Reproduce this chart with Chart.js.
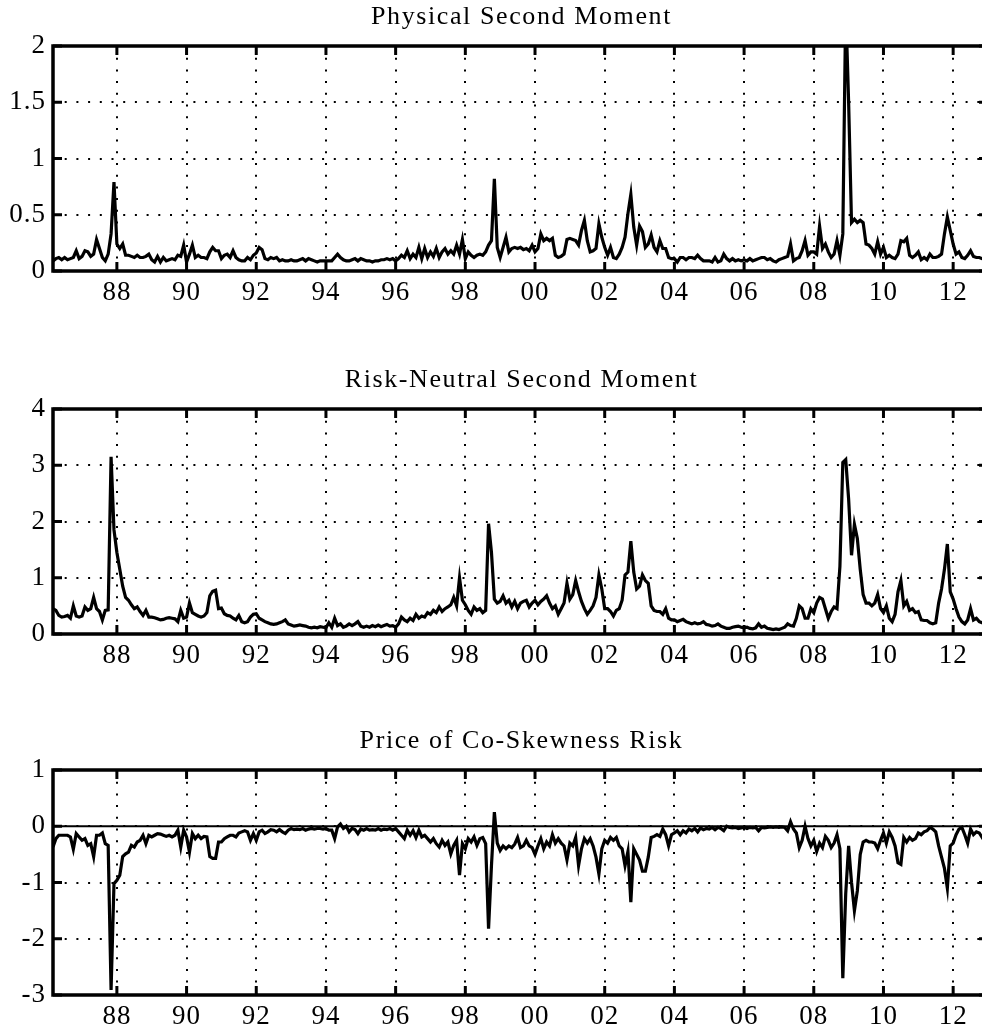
<!DOCTYPE html>
<html>
<head>
<meta charset="utf-8">
<script src="https://cdn.jsdelivr.net/npm/chart.js@4.4.0/dist/chart.umd.min.js"></script>
<style>
  html, body { margin: 0; padding: 0; background: #fff; overflow: hidden; }
  body { width: 982px; height: 1034px; position: relative; }
  canvas { position: absolute; left: 0; }
</style>
</head>
<body>
<canvas id="physical" width="992" height="309" style="top:0px"></canvas>
<canvas id="riskNeutral" width="992" height="309" style="top:363px"></canvas>
<canvas id="coskew" width="992" height="309" style="top:724px"></canvas>
<script>
// monthly observations, Mar 1986 .. Jan 2013
const startYear = 1986, startMonth = 3;

const physical = [
  0.09,0.11,0.12,0.10,0.12,0.10,0.11,0.12,0.18,0.11,                 // 1986
  0.13,0.18,0.17,0.13,0.15,0.28,0.20,0.12,0.09,0.15,0.33,0.79,       // 1987
  0.24,0.20,0.24,0.14,0.14,0.13,0.12,0.14,0.12,0.12,0.13,0.15,       // 1988
  0.10,0.08,0.13,0.08,0.12,0.09,0.10,0.11,0.10,0.14,0.13,0.23,       // 1989
  0.08,0.15,0.23,0.12,0.14,0.12,0.12,0.11,0.17,0.21,0.18,0.18,       // 1990
  0.11,0.14,0.15,0.12,0.18,0.12,0.10,0.09,0.09,0.12,0.10,0.14,       // 1991
  0.16,0.21,0.19,0.11,0.10,0.12,0.11,0.12,0.09,0.10,0.09,0.09,       // 1992
  0.10,0.09,0.09,0.10,0.11,0.09,0.11,0.10,0.09,0.08,0.09,0.09,       // 1993
  0.09,0.09,0.09,0.12,0.15,0.12,0.10,0.09,0.09,0.10,0.11,0.09,       // 1994
  0.11,0.10,0.09,0.09,0.08,0.09,0.09,0.10,0.10,0.11,0.10,0.11,       // 1995
  0.09,0.11,0.14,0.12,0.18,0.11,0.15,0.12,0.21,0.11,0.20,0.12,       // 1996
  0.17,0.13,0.20,0.12,0.17,0.20,0.15,0.18,0.15,0.23,0.15,0.28,       // 1997
  0.11,0.17,0.14,0.12,0.14,0.15,0.14,0.17,0.23,0.27,0.82,0.21,       // 1998
  0.12,0.21,0.30,0.17,0.20,0.21,0.20,0.21,0.19,0.20,0.18,0.23,       // 1999
  0.17,0.20,0.33,0.27,0.29,0.27,0.29,0.14,0.12,0.13,0.15,0.28,       // 2000
  0.29,0.28,0.27,0.23,0.36,0.45,0.27,0.17,0.18,0.20,0.42,0.30,       // 2001
  0.21,0.14,0.21,0.12,0.11,0.15,0.21,0.30,0.51,0.68,0.39,0.23,       // 2002
  0.40,0.35,0.21,0.24,0.32,0.21,0.17,0.27,0.20,0.20,0.12,0.11,       // 2003
  0.11,0.08,0.12,0.12,0.10,0.12,0.12,0.11,0.14,0.11,0.09,0.09,       // 2004
  0.09,0.08,0.12,0.08,0.09,0.15,0.11,0.09,0.11,0.09,0.10,0.09,       // 2005
  0.10,0.09,0.11,0.09,0.10,0.11,0.12,0.12,0.10,0.11,0.09,0.08,       // 2006
  0.10,0.11,0.12,0.13,0.24,0.09,0.11,0.12,0.18,0.27,0.14,0.17,       // 2007
  0.17,0.15,0.40,0.20,0.24,0.17,0.12,0.15,0.27,0.14,0.33,2.35,       // 2008
  1.50,0.43,0.46,0.43,0.45,0.43,0.24,0.23,0.20,0.15,0.26,0.15,       // 2009
  0.21,0.12,0.14,0.12,0.11,0.15,0.27,0.26,0.29,0.14,0.12,0.14,       // 2010
  0.17,0.10,0.12,0.10,0.15,0.12,0.12,0.13,0.15,0.33,0.48,0.36,       // 2011
  0.24,0.15,0.17,0.12,0.11,0.14,0.18,0.13,0.12,0.12,0.11,0.11,       // 2012
  0.12                                                               // 2013
];

const riskNeutral = [
  0.45,0.42,0.33,0.30,0.31,0.33,0.28,0.50,0.32,0.30,
  0.32,0.48,0.42,0.45,0.65,0.45,0.40,0.25,0.42,0.43,3.15,1.85,
  1.45,1.15,0.85,0.65,0.60,0.52,0.45,0.48,0.40,0.33,0.42,0.30,
  0.30,0.29,0.27,0.25,0.26,0.28,0.29,0.28,0.27,0.22,0.42,0.28,
  0.30,0.55,0.38,0.35,0.32,0.30,0.32,0.38,0.68,0.76,0.78,0.45,
  0.46,0.36,0.33,0.32,0.28,0.25,0.33,0.22,0.20,0.22,0.30,0.35,
  0.36,0.28,0.25,0.22,0.20,0.18,0.17,0.18,0.20,0.22,0.25,0.18,
  0.16,0.14,0.15,0.16,0.15,0.14,0.12,0.11,0.12,0.11,0.13,0.12,
  0.11,0.20,0.12,0.28,0.15,0.18,0.12,0.14,0.18,0.15,0.18,0.22,
  0.14,0.12,0.14,0.12,0.15,0.13,0.16,0.13,0.15,0.17,0.14,0.15,
  0.12,0.18,0.30,0.25,0.22,0.28,0.24,0.35,0.28,0.32,0.30,0.38,
  0.35,0.42,0.38,0.48,0.40,0.45,0.48,0.52,0.65,0.50,1.00,0.60,
  0.52,0.42,0.35,0.48,0.42,0.45,0.38,0.42,1.96,1.45,0.62,0.55,
  0.58,0.68,0.55,0.60,0.48,0.58,0.45,0.55,0.58,0.60,0.48,0.55,
  0.60,0.52,0.58,0.62,0.68,0.55,0.45,0.50,0.35,0.45,0.55,0.90,
  0.62,0.70,0.95,0.75,0.58,0.45,0.35,0.42,0.50,0.65,1.05,0.80,
  0.45,0.45,0.40,0.32,0.42,0.45,0.60,1.05,1.10,1.65,1.10,0.80,
  0.85,1.05,0.95,0.90,0.50,0.42,0.40,0.40,0.35,0.45,0.28,0.25,
  0.25,0.22,0.24,0.26,0.22,0.20,0.18,0.20,0.18,0.19,0.22,0.17,
  0.16,0.14,0.15,0.18,0.14,0.12,0.10,0.10,0.12,0.13,0.14,0.12,
  0.11,0.12,0.10,0.09,0.11,0.18,0.12,0.14,0.10,0.09,0.08,0.09,
  0.08,0.10,0.12,0.18,0.15,0.14,0.28,0.50,0.45,0.28,0.28,0.45,
  0.38,0.55,0.65,0.62,0.45,0.28,0.40,0.48,0.45,1.20,3.05,3.10,
  2.40,1.40,1.95,1.70,1.15,0.70,0.55,0.55,0.50,0.55,0.70,0.45,
  0.38,0.50,0.28,0.22,0.35,0.75,0.95,0.50,0.58,0.42,0.45,0.38,
  0.40,0.25,0.24,0.24,0.20,0.18,0.20,0.55,0.80,1.15,1.60,0.75,
  0.62,0.45,0.30,0.22,0.18,0.25,0.45,0.25,0.28,0.22,0.20,0.22,
  0.22
];

const coskewPrice = [
  -0.37,-0.22,-0.16,-0.16,-0.16,-0.16,-0.19,-0.41,-0.13,-0.19,
  -0.25,-0.22,-0.34,-0.31,-0.54,-0.16,-0.16,-0.12,-0.31,-0.34,-2.91,-1.02,
  -0.96,-0.87,-0.54,-0.49,-0.46,-0.34,-0.37,-0.28,-0.25,-0.16,-0.31,-0.16,
  -0.19,-0.16,-0.13,-0.14,-0.16,-0.18,-0.16,-0.19,-0.16,-0.07,-0.37,-0.07,
  -0.19,-0.46,-0.13,-0.22,-0.16,-0.22,-0.18,-0.19,-0.54,-0.57,-0.57,-0.28,
  -0.28,-0.22,-0.19,-0.16,-0.16,-0.19,-0.12,-0.10,-0.08,-0.10,-0.25,-0.13,
  -0.25,-0.10,-0.07,-0.13,-0.10,-0.06,-0.07,-0.10,-0.06,-0.10,-0.13,-0.07,
  -0.04,-0.06,-0.05,-0.06,-0.04,-0.07,-0.05,-0.04,-0.05,-0.04,-0.04,-0.05,
  -0.04,-0.07,-0.07,-0.22,-0.01,0.04,-0.04,0.00,-0.10,-0.04,-0.06,-0.13,
  -0.05,-0.07,-0.04,-0.07,-0.06,-0.07,-0.04,-0.07,-0.05,-0.06,-0.04,-0.07,
  -0.04,-0.10,-0.16,-0.22,-0.07,-0.16,-0.08,-0.20,-0.07,-0.19,-0.16,-0.22,
  -0.28,-0.22,-0.31,-0.37,-0.25,-0.34,-0.28,-0.49,-0.34,-0.25,-0.87,-0.31,
  -0.40,-0.22,-0.28,-0.19,-0.34,-0.22,-0.20,-0.31,-1.82,-0.70,0.25,-0.30,
  -0.43,-0.35,-0.40,-0.35,-0.38,-0.32,-0.20,-0.38,-0.35,-0.25,-0.35,-0.38,
  -0.50,-0.35,-0.22,-0.40,-0.28,-0.35,-0.15,-0.30,-0.22,-0.30,-0.35,-0.60,
  -0.30,-0.35,-0.20,-0.70,-0.40,-0.22,-0.30,-0.22,-0.35,-0.55,-0.85,-0.40,
  -0.25,-0.30,-0.20,-0.25,-0.20,-0.35,-0.40,-0.70,-0.45,-1.35,-0.40,-0.50,
  -0.60,-0.80,-0.80,-0.55,-0.20,-0.18,-0.15,-0.18,-0.05,-0.15,-0.35,-0.15,
  -0.12,-0.08,-0.15,-0.08,-0.12,-0.05,-0.08,-0.04,-0.10,-0.03,-0.06,-0.04,
  -0.05,-0.02,-0.06,-0.02,-0.04,-0.08,0.00,-0.02,-0.03,-0.02,-0.04,-0.03,
  -0.02,-0.04,-0.02,-0.03,-0.02,-0.08,-0.02,-0.03,-0.02,-0.01,-0.02,-0.01,
  -0.02,-0.01,-0.02,-0.08,0.08,-0.05,-0.12,-0.38,-0.25,0.00,-0.22,-0.35,
  -0.25,-0.45,-0.30,-0.38,-0.18,-0.25,-0.38,-0.30,-0.15,-0.40,-2.70,-1.20,
  -0.35,-1.00,-1.50,-1.15,-0.50,-0.28,-0.25,-0.28,-0.28,-0.30,-0.40,-0.25,
  -0.12,-0.30,-0.10,-0.20,-0.35,-0.65,-0.68,-0.20,-0.28,-0.20,-0.25,-0.22,
  -0.12,-0.15,-0.10,-0.08,-0.02,-0.05,-0.10,-0.35,-0.55,-0.75,-1.10,-0.35,
  -0.30,-0.15,-0.05,-0.02,-0.15,-0.30,-0.05,-0.15,-0.10,-0.12,-0.20,-0.15,
  -0.15
];

const xTickYears  = [1988,1990,1992,1994,1996,1998,2000,2002,2004,2006,2008,2010,2012];
const xTickLabels = ['88','90','92','94','96','98','00','02','04','06','08','10','12'];

const yTicksPhysical = [0, 0.5, 1, 1.5, 2];
const yTicksRN       = [0, 1, 2, 3, 4];
const yTicksCoskew   = [-3, -2, -1, 0, 1];

// decimal-year position of each month
const months = physical.map((_, i) => startYear + (startMonth - 1 + i) / 12);

const serif = 'Liberation Serif, Times New Roman, serif';

// boxed axes with inward ticks, zero line and a title centred on the plot
const framePlugin = {
  id: 'frame',
  beforeDraw(chart) {
    // slightly loose spacing for all tick labels
    chart.ctx.letterSpacing = '1px';
  },
  beforeDatasetsDraw(chart, args, opts) {
    if (!opts.zeroLine) return;
    const {ctx, chartArea: a, scales: {y}} = chart;
    const py = y.getPixelForValue(0);
    ctx.save();
    ctx.strokeStyle = '#000';
    ctx.lineWidth = 1.8;
    ctx.beginPath();
    ctx.moveTo(a.left, py);
    ctx.lineTo(a.right, py);
    ctx.stroke();
    ctx.restore();
  },
  afterDatasetsDraw(chart, args, opts) {
    const {ctx, chartArea: a, scales: {x, y}} = chart;
    ctx.save();
    ctx.strokeStyle = '#000';
    ctx.lineWidth = 3;
    ctx.beginPath();
    x.ticks.forEach(t => {
      const px = x.getPixelForValue(t.value);
      ctx.moveTo(px, a.bottom); ctx.lineTo(px, a.bottom - 9);
      ctx.moveTo(px, a.top);    ctx.lineTo(px, a.top + 9);
    });
    y.ticks.forEach(t => {
      const py = y.getPixelForValue(t.value);
      ctx.moveTo(a.left, py);  ctx.lineTo(a.left + 9, py);
      ctx.moveTo(a.right, py); ctx.lineTo(a.right - 9, py);
    });
    ctx.stroke();
    ctx.lineWidth = 3.5;
    ctx.strokeRect(a.left, a.top, a.right - a.left, a.bottom - a.top);

    ctx.fillStyle = '#000';
    ctx.font = '26px ' + serif;
    ctx.letterSpacing = '1.6px';
    ctx.textAlign = 'center';
    ctx.textBaseline = 'middle';
    ctx.fillText(opts.title, (a.left + a.right) / 2 + 1, a.top - 29);
    ctx.restore();
  }
};

function makePanel(id, title, values, yMin, yMax, yTicks, zeroLine) {
  return new Chart(document.getElementById(id), {
    type: 'line',
    data: {
      datasets: [{
        data: values.map((v, i) => ({x: months[i], y: v})),
        borderColor: '#000',
        borderWidth: 3.2,
        pointRadius: 0,
        tension: 0,
        fill: false
      }]
    },
    options: {
      responsive: false,
      animation: false,
      layout: {padding: {top: 46, right: 4, left: 0, bottom: 0}},
      plugins: {
        legend: {display: false},
        tooltip: {enabled: false},
        frame: {title: title, zeroLine: zeroLine}
      },
      scales: {
        x: {
          type: 'linear',
          min: 1986 + 2 / 12,
          max: 2013,
          afterBuildTicks: s => { s.ticks = xTickYears.map(v => ({value: v})); },
          afterFit: s => { s.height = 38; },
          ticks: {
            color: '#000',
            font: {family: serif, size: 27},
            padding: 6,
            maxRotation: 0,
            callback: v => xTickLabels[xTickYears.indexOf(v)]
          },
          grid: {color: '#000', lineWidth: 2, drawTicks: false},
          border: {display: false, dash: [2, 9.7]}
        },
        y: {
          min: yMin,
          max: yMax,
          afterBuildTicks: s => { s.ticks = yTicks.map(v => ({value: v})); },
          afterFit: s => { s.width = 53; },
          ticks: {
            color: '#000',
            font: {family: serif, size: 27},
            padding: 7,
            callback: v => String(v)
          },
          grid: {color: '#000', lineWidth: 2, drawTicks: false},
          border: {display: false, dash: [2, 9.7]}
        }
      }
    },
    plugins: [framePlugin]
  });
}

makePanel('physical', 'Physical Second Moment', physical, 0, 2, yTicksPhysical, false);
makePanel('riskNeutral', 'Risk-Neutral Second Moment', riskNeutral, 0, 4, yTicksRN, false);
makePanel('coskew', 'Price of Co-Skewness Risk', coskewPrice, -3, 1, yTicksCoskew, true);
</script>
</body>
</html>
